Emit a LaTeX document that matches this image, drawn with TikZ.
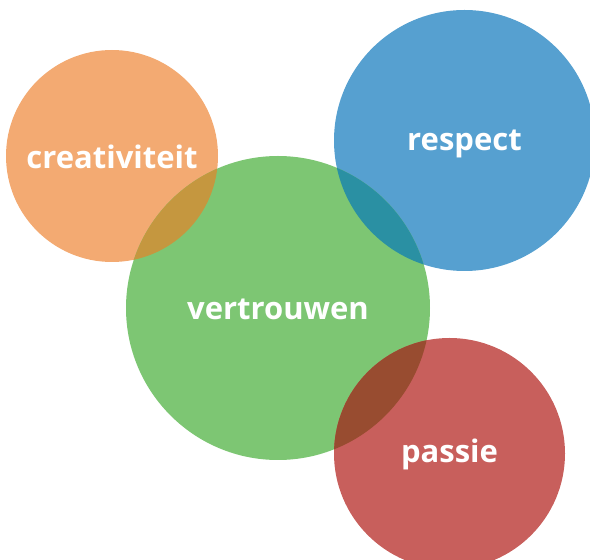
\documentclass[tikz,border=0pt]{standalone}
\usepackage{fontspec}
\setmainfont{Open Sans}
\definecolor{corange}{HTML}{F3AA72}
\definecolor{cgreen}{HTML}{7DC673}
\definecolor{cblue}{HTML}{56A0D0}
\definecolor{cred}{HTML}{C85F5C}
\definecolor{covog}{HTML}{C5973F}
\definecolor{covbg}{HTML}{2A90A3}
\definecolor{covrg}{HTML}{984C30}
\tikzset{
  blob/.style={circle, inner sep=0pt, draw=none},
  lbl/.style={text=white, font=\fontsize{31}{35}\selectfont\bfseries, inner sep=0pt}
}
\begin{document}
\begin{tikzpicture}[x=1pt,y=1pt]
\useasboundingbox (0,0) rectangle (590,560);
\clip (0,0) rectangle (590,560);
% circles
\node[blob, fill=corange, minimum size=212pt] (o) at (112,404) {};
\node[blob, fill=cblue, minimum size=261pt] (b) at (464.5,419.5) {};
\node[blob, fill=cgreen, minimum size=304pt] (g) at (278,252) {};
\node[blob, fill=cred, minimum size=231pt] (r) at (449.5,106.5) {};
% overlaps
\begin{scope}
  \clip (o.center) circle (106);
  \fill[covog] (g.center) circle (152);
\end{scope}
\begin{scope}
  \clip (b.center) circle (130.5);
  \fill[covbg] (g.center) circle (152);
\end{scope}
\begin{scope}
  \clip (r.center) circle (115.5);
  \fill[covrg] (g.center) circle (152);
\end{scope}
% labels
\node[lbl] (to) at ([yshift=-1pt]o.center) {creativiteit};
\node[lbl] (tb) at ([yshift=-3pt]b.center) {respect};
\node[lbl] (tg) at ([yshift=-1pt]g.center) {vertrouwen};
\node[lbl] (tr) at ([yshift=-1pt]r.center) {passie};
\end{tikzpicture}
\end{document}
